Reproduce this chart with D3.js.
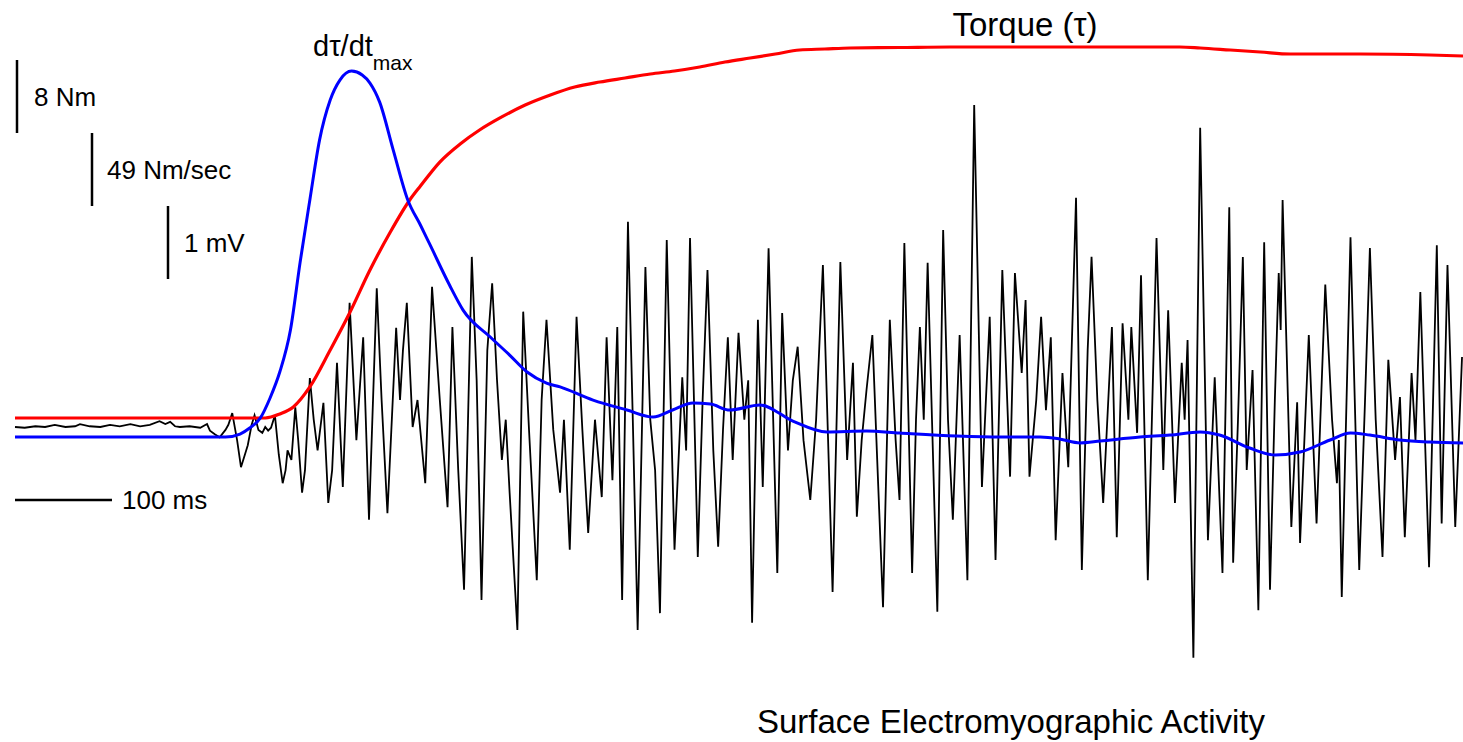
<!DOCTYPE html>
<html><head><meta charset="utf-8">
<script src="https://cdn.jsdelivr.net/npm/d3@7"></script>
<style>
html,body{margin:0;padding:0;background:#fff;}
svg{display:block;}
text{font-family:"Liberation Sans",Arial,sans-serif;fill:#000;}
</style></head>
<body>
<svg id="chart" width="1463" height="742"></svg>
<script>
// ---- EMG (surface electromyographic activity), time in ms, amplitude in mV
const emgTime = [0,10,21,31,41,52,62,67,77,88,98,108,119,129,139,149,155,160,165,170,180,191,198,201,206,211,217,220,224,229,233,237,240,244,247,251,255,258,261,264,268,272,276,279,281,285,289,292,296,299,304,308,312,318,323,327,332,338,345,352,359,365,373,378,384,393,397,400,404,410,415,423,430,438,446,451,457,463,471,476,481,487,492,497,502,506,510,518,524,530,538,543,548,555,562,566,572,579,585,591,598,605,610,616,621,626,632,637,642,650,655,660,665,672,676,680,688,692,696,704,709,714,720,725,730,735,740,746,752,756,760,766,771,777,786,791,797,802,807,813,820,826,833,843,851,858,864,868,873,878,884,889,895,902,908,912,917,925,929,933,937,941,951,957,962,967,974,982,989,997,1005,1011,1018,1026,1031,1038,1042,1046,1053,1058,1063,1068,1073,1080,1086,1094,1100,1106,1110,1116,1122,1131,1136,1142,1148,1151,1157,1161,1168,1177,1184,1189,1196,1203,1206,1209,1215,1222,1230,1237,1245,1252,1256,1261,1266,1270,1276,1282,1288,1294,1299,1303,1305,1307,1316,1322,1325,1334,1342,1351,1358,1363,1365,1368,1377,1386,1392,1397,1403,1410,1416,1423,1428,1433,1440,1444,1449,1458,1466,1471,1477,1485,1492];
const emgMv = [0,-0.01,0.01,0,0.03,0,0.01,0.04,0.01,0,0.03,0.01,0.04,0.01,0.03,0.08,0.04,0.07,0.01,0,0.01,-0.01,0.04,-0.05,-0.10,-0.14,-0.04,0.03,0.19,-0.18,-0.55,-0.38,-0.25,0.03,0.16,-0.04,-0.08,0,-0.05,-0.01,0.16,-0.38,-0.77,-0.59,-0.32,-0.45,0.27,-0.18,-0.90,-0.59,0.67,0.10,-0.32,0.33,-1.04,-0.59,0.88,-0.82,1.70,-0.18,1.23,-1.27,1.90,0.37,-1.18,1.36,0.37,1.05,1.70,0,0.37,-0.77,1.92,0.37,-1.10,1.37,-0.59,-2.23,2.33,0.64,-2.37,1.05,1.97,0.64,-0.45,0.10,-0.90,-2.78,1.58,-0.04,-2.10,0.37,1.47,-0.04,-0.90,0.10,-1.68,1.51,-0.04,-1.45,0.10,-0.96,1.23,-0.73,1.37,-2.37,2.81,0.10,-2.78,2.19,0.10,-0.59,-2.55,2.56,0.37,-1.68,0.68,-0.32,2.59,-1.78,0.37,2.15,-0.32,-1.64,-0.04,1.23,-0.45,1.29,0.10,0.64,-2.68,1.47,-0.82,2.45,-2.00,1.56,-0.32,0.64,1.10,-0.18,-1.00,0.10,2.22,-2.26,2.26,-0.45,0.88,-1.23,-0.18,0.51,1.26,-0.45,-2.47,1.47,-0.18,-1.00,2.52,-2.00,0.10,1.37,0.10,2.25,-2.53,2.70,0.10,-1.27,1.26,-2.10,4.41,-0.82,1.51,-1.82,2.15,-0.68,2.11,0.74,1.74,-0.68,0.37,1.51,0.23,1.23,-1.55,0.74,-0.55,3.14,-1.96,1.05,2.33,0.37,-1.04,1.37,-1.51,1.42,0.10,1.37,-0.08,2.08,-2.10,2.59,-0.59,1.60,-1.04,0.88,0.10,1.19,-3.16,4.10,-1.55,0.68,-2.00,3.01,-1.86,0.10,2.33,-0.59,0.78,-2.51,2.53,-2.23,0.37,2.11,1.33,3.11,-1.37,0.34,-1.59,1.26,-1.32,1.95,0.10,-0.77,-0.18,-2.33,2.60,-1.96,0.37,2.45,0.10,-1.78,0.92,-0.45,0.41,-1.51,0.74,-0.18,1.85,-1.92,2.49,-1.32,2.22,-1.37,0.96];

// ---- Torque (τ), time in ms, Nm
const torqueTime = [0,258,273,287,304,325,345,366,387,407,418,438,459,479,500,526,552,577,603,629,655,680,706,732,758,784,809,835,861,912,964,1016,1119,1201,1222,1253,1284,1315,1387,1459,1493];
const torqueNm = [0,0,0.44,1.21,3.40,7.45,11.51,16.22,20.38,23.89,25.42,28.05,30.03,31.56,32.88,34.30,35.40,36.27,36.82,37.26,37.70,38.03,38.47,39.01,39.45,39.89,40.33,40.44,40.55,40.60,40.66,40.66,40.66,40.66,40.55,40.33,40.11,39.89,39.89,39.78,39.67];

// ---- Rate of torque development dτ/dt, time in ms, Nm/sec
const rateTime = [0,217,232,242,253,263,273,284,294,304,314,325,335,347,358,366,376,390,405,418,428,448,462,490,510,528,548,562,596,631,658,678,699,717,737,768,802,837,878,912,971,1016,1057,1077,1098,1119,1160,1191,1222,1242,1273,1299,1325,1356,1377,1397,1428,1459,1493];
const rateNmS = [0,0,2.0,6.0,12.8,26.2,43.6,71.8,117.4,159.1,199.3,226.2,239.6,245.6,243.0,237.6,224.8,192.6,159.1,142.3,128.9,102.0,85.2,67.1,55.0,43.6,36.2,33.6,24.8,18.1,13.4,18.1,22.8,22.1,18.1,21.5,10.7,3.4,4.0,2.7,0.7,0,0,-1.3,-4.0,-2.7,0,1.3,3.4,1.3,-7.4,-12.1,-10.1,-2.0,2.7,1.3,-2.0,-3.4,-4.0];

// ---- Calibration bars and labels
const calTorqueNm = 8, calRateNmS = 49, calEmgMv = 1, calTimeMs = 100;
const calLabels = ["8 Nm", "49 Nm/sec", "1 mV", "100 ms"];
const torqueLabel = "Torque (\u03c4)";
const rateLabelMain = "d\u03c4/dt", rateLabelSub = "max";
const emgLabel = "Surface Electromyographic Activity";

const svg = d3.select("#chart");
const x = d3.scaleLinear().domain([0, 1493]).range([15, 1463]);
const yEmg = d3.scaleLinear().domain([0, 1]).range([427, 354]);
const yTorque = d3.scaleLinear().domain([0, 8]).range([418, 345]);
const yRate = d3.scaleLinear().domain([0, 49]).range([437, 364]);

const emg = emgTime.map((t, i) => [t, emgMv[i]]);
const torque = torqueTime.map((t, i) => [t, torqueNm[i]]);
const rate = rateTime.map((t, i) => [t, rateNmS[i]]);

svg.append("path").datum(emg)
  .attr("d", d3.line().x(d => x(d[0])).y(d => yEmg(d[1])))
  .attr("fill", "none").attr("stroke", "#000").attr("stroke-width", 1.8).attr("stroke-linejoin", "miter");

svg.append("path").datum(torque)
  .attr("d", d3.line().curve(d3.curveMonotoneX).x(d => x(d[0])).y(d => yTorque(d[1])))
  .attr("fill", "none").attr("stroke", "#ff0000").attr("stroke-width", 3.2);

svg.append("path").datum(rate)
  .attr("d", d3.line().curve(d3.curveMonotoneX).x(d => x(d[0])).y(d => yRate(d[1])))
  .attr("fill", "none").attr("stroke", "#0000ff").attr("stroke-width", 3);

// calibration bars
const barT = yTorque(0) - yTorque(calTorqueNm);
const barR = yRate(0) - yRate(calRateNmS);
const barE = yEmg(0) - yEmg(calEmgMv);
const barMs = x(calTimeMs) - x(0);
const cal = svg.append("g").attr("stroke", "#000").attr("stroke-width", 2.5);
cal.append("line").attr("x1", 17).attr("x2", 17).attr("y1", 60).attr("y2", 60 + barT);
cal.append("line").attr("x1", 92).attr("x2", 92).attr("y1", 60 + barT).attr("y2", 60 + barT + barR);
cal.append("line").attr("x1", 168).attr("x2", 168).attr("y1", 60 + barT + barR).attr("y2", 60 + barT + barR + barE);
cal.append("line").attr("x1", x(0)).attr("x2", x(0) + barMs).attr("y1", 500).attr("y2", 500);

const fs = 26;
svg.append("text").attr("x", 34).attr("y", 106).attr("font-size", fs).text(calLabels[0]);
svg.append("text").attr("x", 107).attr("y", 179).attr("font-size", fs).text(calLabels[1]);
svg.append("text").attr("x", 184).attr("y", 252).attr("font-size", fs).text(calLabels[2]);
svg.append("text").attr("x", 122).attr("y", 509).attr("font-size", fs).text(calLabels[3]);

const rl = svg.append("text").attr("x", 313).attr("y", 56).attr("font-size", 29);
rl.append("tspan").text(rateLabelMain);
rl.append("tspan").attr("dy", 14).attr("font-size", 21).text(rateLabelSub);

svg.append("text").attr("x", 1025).attr("y", 36).attr("font-size", 33).attr("text-anchor", "middle").text(torqueLabel);
svg.append("text").attr("x", 1011).attr("y", 733).attr("font-size", 33).attr("text-anchor", "middle").text(emgLabel);
</script>
</body></html>
